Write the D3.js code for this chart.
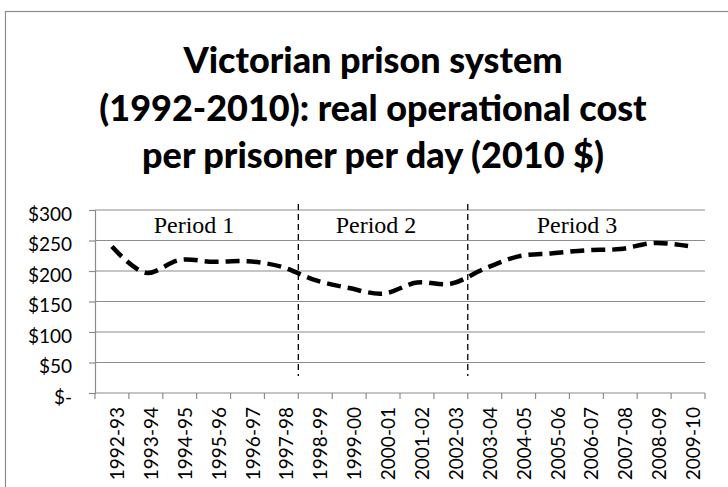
<!DOCTYPE html>
<html>
<head>
<meta charset="utf-8">
<script src="https://cdn.jsdelivr.net/npm/d3@7"></script>
<style>
  body { margin: 0; background: #fff; }
  svg { display: block; }
</style>
</head>
<body>
<div id="chart"></div>
<script>
// financial years on the x axis
const years = ["1992-93", "1993-94", "1994-95", "1995-96", "1996-97", "1997-98",
    "1998-99", "1999-00", "2000-01", "2001-02", "2002-03", "2003-04",
    "2004-05", "2005-06", "2006-07", "2007-08", "2008-09", "2009-10"];
// cost per prisoner per day, 2010 dollars
const costs = [240, 197, 218, 215, 216, 207, 185, 172, 163, 181, 179, 204,
    224, 229, 234, 236, 246, 241];
const yTicks = [0, 50, 100, 150, 200, 250, 300];
// periods: label, first year index, last year index
const periodNames = ["Period 1", "Period 2", "Period 3"];
const periodStart = [0, 6, 11];
const periodEnd = [5, 10, 17];
const titleLines = ["Victorian prison system", "(1992-2010): real operational cost", "per prisoner per day (2010 $)"];

const width = 728, height = 487;
const margin = {top: 210, right: 23, bottom: 94, left: 95};
const sans = "Lato, 'Open Sans', sans-serif";

let svg = d3.select("#chart").append("svg").attr("width", width).attr("height", height);

// outer chart frame
svg.append("rect").attr("x", 5.5).attr("y", 11.5).attr("width", 740).attr("height", 500)
    .attr("fill", "none").attr("stroke", "#8c8c8c").attr("stroke-width", 1.2);

// title
svg.append("g").selectAll("text").data(titleLines).join("text")
    .attr("x", 373).attr("y", (d, i) => 73 + i * 47.5)
    .attr("text-anchor", "middle")
    .attr("font-family", sans).attr("font-weight", "900")
    .attr("font-size", "36px").attr("fill", "#000")
    .text(d => d);

let x = d3.scaleBand().domain(years).range([margin.left, width - margin.right]);
let y = d3.scaleLinear().domain([0, 300]).range([height - margin.bottom, margin.top]);

// gridlines
svg.append("g").selectAll("line").data(yTicks.filter(d => d > 0)).join("line")
    .attr("x1", margin.left).attr("x2", width - margin.right)
    .attr("y1", d => y(d)).attr("y2", d => y(d))
    .attr("stroke", "#8c8c8c").attr("stroke-width", 1.2);

// y axis
let yAxis = svg.append("g").attr("transform", `translate(${margin.left},0)`)
    .call(d3.axisLeft(y).tickValues(yTicks).tickSize(6).tickPadding(17)
        .tickFormat(d => d == 0 ? "$-" : "$" + d));
yAxis.select(".domain").attr("stroke", "#8c8c8c").attr("stroke-width", 1.2);
yAxis.selectAll(".tick line").attr("stroke", "#8c8c8c").attr("stroke-width", 1.2);
yAxis.selectAll("text").attr("font-family", sans).attr("dy", "0.55em")
    .attr("font-size", "19px").attr("fill", "#000");

// x axis, ticks on category boundaries
let xAxis = svg.append("g").attr("transform", `translate(0,${y(0)})`);
xAxis.append("line").attr("x1", margin.left).attr("x2", width - margin.right)
    .attr("stroke", "#8c8c8c").attr("stroke-width", 1.2);
let bounds = d3.range(years.length + 1).map(i => margin.left + i * x.step());
xAxis.selectAll(".bt").data(bounds).join("line").attr("class", "bt")
    .attr("x1", d => d).attr("x2", d => d).attr("y1", 0).attr("y2", 6)
    .attr("stroke", "#8c8c8c").attr("stroke-width", 1.2);
xAxis.selectAll(".lbl").data(years).join("text").attr("class", "lbl")
    .attr("transform", d => `translate(${x(d) + x.bandwidth() / 2 + 12},14) rotate(-90)`)
    .attr("text-anchor", "end")
    .attr("font-family", sans).attr("font-size", "19px")
    .attr("fill", "#000")
    .text(d => d);

// period separators
let sepIdx = periodStart.slice(1);
svg.append("g").selectAll("line").data(sepIdx).join("line")
    .attr("x1", d => x(years[d])).attr("x2", d => x(years[d]))
    .attr("y1", 204).attr("y2", 376)
    .attr("stroke", "#000").attr("stroke-width", 1.3).attr("stroke-dasharray", "6,4");

// period labels, placed by hand-read centres
const periodX = [194, 376, 577];
svg.append("g").selectAll("text").data(periodNames).join("text")
    .attr("x", (d, i) => periodX[i])
    .attr("y", 233)
    .attr("text-anchor", "middle")
    .attr("font-family", "'Liberation Serif', 'Times New Roman', serif").attr("font-size", "24px")
    .attr("fill", "#000")
    .text(d => d);

// cost line
let line = d3.line()
    .x((d, i) => x(years[i]) + x.bandwidth() / 2)
    .y(d => y(d))
    .curve(d3.curveCatmullRom.alpha(0.5));
svg.append("path").datum(costs).attr("d", line)
    .attr("fill", "none").attr("stroke", "#000").attr("stroke-width", 4.5)
    .attr("stroke-dasharray", "14,7");
</script>
</body>
</html>
